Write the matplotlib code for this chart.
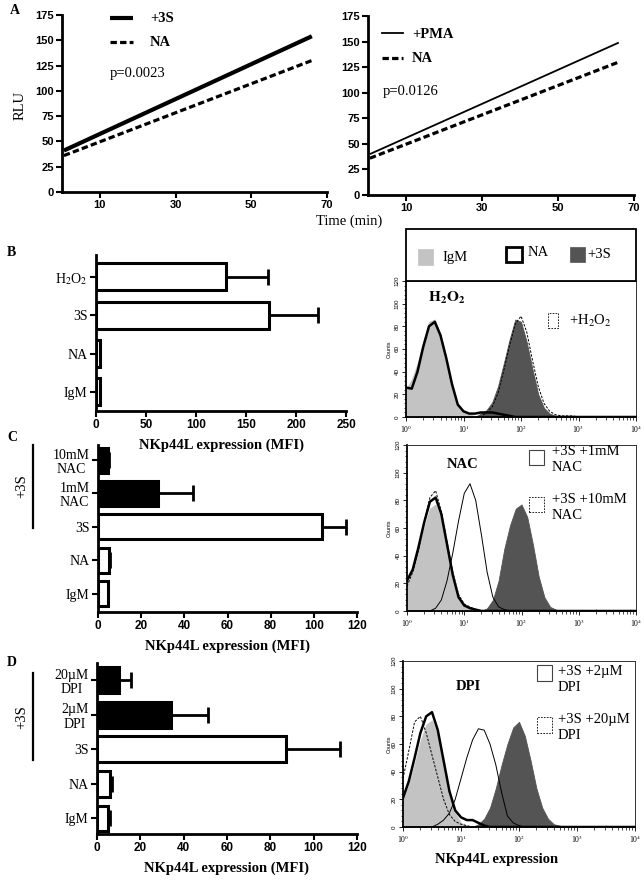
import numpy as np
import matplotlib
matplotlib.use("Agg")
import matplotlib.pyplot as plt
from matplotlib.patches import Rectangle
from matplotlib.lines import Line2D
from matplotlib.ticker import MultipleLocator, LogLocator, NullFormatter

plt.rcParams['font.family'] = ['Liberation Serif', 'DejaVu Serif']
plt.rcParams['mathtext.fontset'] = 'stix'
plt.rcParams['axes.facecolor'] = 'none'

W, H = 644, 883
SANS = 'Liberation Sans'

# panel A : RLU over time (fitted lines)
time_pts = [0.5, 66]
rlu_3s = [41, 154]
rlu_na_a1 = [36, 130]
rlu_pma = [40, 149]
rlu_na_a2 = [36, 130]

# panels B-D : NKp44L expression (MFI), top row first
b_labels = ["H$_2$O$_2$", "3S", "NA", "IgM"]
b_mfi = [130, 173, 4, 4]
b_err = [42, 49, 0, 0]
b_fill = ["white", "white", "white", "white"]

c_labels = ["10mM\nNAC", "1mM\nNAC", "3S", "NA", "IgM"]
c_mfi = [4.5, 28, 104, 5, 4.5]
c_err = [0.5, 16, 11, 0.5, 0]
c_fill = ["black", "black", "white", "white", "white"]

d_labels = ["20\u00b5M\nDPI", "2\u00b5M\nDPI", "3S", "NA", "IgM"]
d_mfi = [10, 34, 87, 6, 5]
d_err = [5.5, 17, 25, 1, 0.8]
d_fill = ["black", "black", "white", "white", "white"]

# flow histograms : counts per 0.1 decade channel, 10^0 .. 10^4
decade = np.arange(41) / 10

hist_b_igm = [24, 33, 47, 66, 84, 86, 73, 50, 27, 11,
              4, 2, 1, 1, 0, 0, 0, 0, 0, 0,
              0, 0, 0, 0, 0, 0, 0, 0, 0, 0,
              0, 0, 0, 0, 0, 0, 0, 0, 0, 0, 0]
hist_b_na = [26, 25, 40, 62, 80, 84, 72, 52, 29, 11,
             5, 3, 3, 4, 4, 4, 3, 2, 1, 0,
             0, 0, 0, 0, 0, 0, 0, 0, 0, 0,
             0, 0, 0, 0, 0, 0, 0, 0, 0, 0, 0]
hist_b_3s = [0, 0, 0, 0, 0, 0, 0, 0, 0, 0,
             0, 0, 0, 3, 6, 13, 27, 47, 68, 86,
             84, 66, 42, 20, 8, 3, 1, 1, 0, 0,
             0, 0, 1, 0, 0, 0, 0, 0, 1, 0, 0]
hist_b_h2o2 = [0, 0, 0, 0, 0, 0, 0, 0, 0, 0,
               0, 0, 0, 0, 4, 9, 21, 41, 63, 82,
               89, 75, 50, 27, 12, 5, 2, 1, 1, 1,
               0, 0, 0, 0, 0, 0, 0, 0, 0, 0, 0]

hist_c_igm = [20, 30, 44, 60, 74, 77, 66, 45, 24, 9,
              3, 1, 0, 0, 0, 0, 0, 0, 0, 0,
              0, 0, 0, 0, 0, 0, 0, 0, 0, 0,
              0, 0, 0, 0, 0, 0, 0, 0, 0, 0, 0]
hist_c_na = [22, 30, 46, 64, 79, 82, 70, 48, 26, 10,
             4, 2, 1, 0, 0, 0, 0, 0, 0, 0,
             0, 0, 0, 0, 0, 0, 0, 0, 0, 0,
             0, 0, 0, 0, 0, 0, 0, 0, 0, 0, 0]
hist_c_nac10 = [18, 28, 44, 64, 82, 87, 72, 50, 28, 12,
                5, 3, 1, 0, 0, 0, 0, 0, 0, 0,
                0, 0, 0, 0, 0, 0, 0, 0, 0, 0,
                0, 0, 0, 0, 0, 0, 0, 0, 0, 0, 0]
hist_c_nac1 = [0, 0, 0, 0, 0, 2, 8, 22, 42, 65,
               85, 92, 80, 55, 28, 10, 3, 1, 0, 0,
               0, 0, 0, 0, 0, 0, 0, 0, 0, 0,
               0, 0, 0, 0, 0, 0, 0, 0, 0, 0, 0]
hist_c_3s = [0, 0, 0, 0, 0, 0, 0, 0, 0, 0,
             0, 0, 0, 0, 2, 8, 22, 45, 62, 74,
             77, 68, 48, 25, 10, 3, 1, 0, 0, 0,
             0, 0, 0, 1, 0, 0, 0, 0, 0, 1, 0]

hist_d_igm = [20, 30, 45, 62, 74, 77, 66, 45, 24, 10,
              3, 1, 0, 0, 0, 0, 0, 0, 0, 0,
              0, 0, 0, 0, 0, 0, 0, 0, 0, 0,
              0, 0, 0, 0, 0, 0, 0, 0, 0, 0, 0]
hist_d_na = [21, 33, 50, 68, 80, 83, 70, 48, 26, 12,
             7, 5, 5, 3, 1, 0, 0, 0, 0, 0,
             0, 0, 0, 0, 0, 0, 0, 0, 0, 0,
             0, 0, 0, 0, 0, 0, 0, 0, 0, 0, 0]
hist_d_dpi20 = [35, 55, 76, 80, 68, 52, 36, 20, 9, 4,
                2, 1, 0, 0, 0, 0, 0, 0, 0, 0,
                0, 0, 0, 0, 0, 0, 0, 0, 0, 0,
                0, 0, 0, 0, 0, 0, 0, 0, 0, 0, 0]
hist_d_dpi2 = [0, 0, 0, 0, 0, 0, 2, 5, 10, 20,
               35, 50, 63, 71, 70, 60, 45, 25, 8, 3,
               1, 0, 0, 0, 0, 0, 0, 0, 0, 0,
               0, 0, 0, 0, 0, 0, 0, 0, 0, 0, 0]
hist_d_3s = [0, 0, 0, 0, 0, 0, 0, 0, 0, 0,
             0, 0, 0, 2, 6, 14, 28, 45, 60, 72,
             76, 66, 48, 28, 14, 6, 2, 1, 0, 0,
             0, 0, 0, 0, 0, 1, 0, 0, 0, 0, 0]

LIGHT = '#c3c3c3'
DARK = '#545454'


def box(x0, y0, x1, y1):
    # pixel box (top-left origin) -> figure rect
    return [x0 / W, 1 - y1 / H, (x1 - x0) / W, (y1 - y0) / H]


def ftext(fig, x, y, s, **kw):
    fig.text(x / W, 1 - y / H, s, **kw)


def fline(fig, x0, y0, x1, y1, **kw):
    fig.add_artist(Line2D([x0 / W, x1 / W], [1 - y0 / H, 1 - y1 / H], transform=fig.transFigure, **kw))


def frect(fig, x0, y0, x1, y1, **kw):
    fig.add_artist(Rectangle((x0 / W, 1 - y1 / H), (x1 - x0) / W, (y1 - y0) / H,
                             transform=fig.transFigure, **kw))


def sans_ticks(ax, size=8):
    for lab in ax.get_xticklabels() + ax.get_yticklabels():
        lab.set_fontfamily(SANS)
        lab.set_fontweight('bold')
        lab.set_fontsize(size)


def rlu_panel(fig, rect, y_top, lw_top, y_na):
    ax = fig.add_axes(rect)
    ax.plot(time_pts, y_top, color='k', lw=lw_top, solid_capstyle='butt')
    ax.plot(time_pts, y_na, color='k', lw=2.3, ls=(0, (2, 1)))
    ax.set_xlim(0, 70)
    ax.set_ylim(0, 175)
    ax.set_xticks([10, 30, 50, 70])
    ax.set_yticks(range(0, 176, 25))
    for s in ['top', 'right']:
        ax.spines[s].set_visible(False)
    for s in ['left', 'bottom']:
        ax.spines[s].set_linewidth(2)
    ax.tick_params(width=1.5, length=4, pad=2)
    sans_ticks(ax)
    return ax


def bar_panel(fig, rect, labels, vals, errs, fills, xmax, xstep, ylim, height):
    ax = fig.add_axes(rect)
    pos = np.arange(len(labels))[::-1]
    ax.barh(pos, vals, height=height, color=fills, edgecolor='k', lw=2.2)
    ax.errorbar(vals, pos, xerr=[np.zeros(len(errs)), errs], fmt='none',
                ecolor='k', elinewidth=2, capsize=5.5, capthick=2)
    ax.set_xlim(0, xmax)
    ax.set_ylim(*ylim)
    ax.set_xticks(range(0, xmax + 1, xstep))
    ax.set_yticks(pos)
    ax.set_yticklabels(labels, fontsize=10, ma='center', linespacing=1.15)
    for s in ['top', 'right']:
        ax.spines[s].set_visible(False)
    for s in ['left', 'bottom']:
        ax.spines[s].set_linewidth(2)
    ax.tick_params(width=1.5, length=4, pad=2)
    for lab in ax.get_xticklabels():
        lab.set_fontfamily(SANS)
        lab.set_fontweight('bold')
        lab.set_fontsize(8.5)
    ax.set_xlabel('NKp44L expression (MFI)', fontsize=10.5, fontweight='bold', labelpad=5)
    return ax


def hist_panel(fig, rect, fills, lines):
    ax = fig.add_axes(rect)
    x = 10 ** decade
    for counts, col in fills:
        ax.fill_between(x, counts, color=col, lw=0.6, edgecolor=col)
    for counts, lw, ls in lines:
        ax.plot(x, counts, color='k', lw=lw, ls=ls)
    ax.set_xscale('log')
    ax.set_xlim(1, 1e4)
    ax.set_ylim(0, 120)
    ax.set_xticks([1, 10, 100, 1000, 10000])
    ax.set_xticklabels(['10$^0$', '10$^1$', '10$^2$', '10$^3$', '10$^4$'], fontsize=5.5)
    ax.xaxis.set_minor_locator(LogLocator(base=10, subs=np.arange(2, 10)))
    ax.xaxis.set_minor_formatter(NullFormatter())
    ax.set_yticks(range(0, 121, 20))
    ax.set_yticklabels([str(v) for v in range(0, 121, 20)], fontsize=4.5,
                       rotation=90, va='center', fontfamily=SANS)
    ax.yaxis.set_minor_locator(MultipleLocator(4))
    ax.tick_params(which='major', length=3, width=0.6, pad=1.5)
    ax.tick_params(which='minor', length=1.8, width=0.5)
    ax.spines['left'].set_linewidth(1.3)
    ax.spines['bottom'].set_linewidth(1.3)
    for s in ['top', 'right']:
        ax.spines[s].set_linewidth(0.7)
        ax.spines[s].set_color('#333333')
    return ax


fig = plt.figure(figsize=(W / 100, H / 100), dpi=100)

# ---------------- A
rlu_panel(fig, box(62, 15, 327, 192), rlu_3s, 3.0, rlu_na_a1)
rlu_panel(fig, box(368, 16, 634, 195), rlu_pma, 1.3, rlu_na_a2)
ftext(fig, 10, 10, 'A', fontsize=10, fontweight='bold', va='center')
ftext(fig, 20, 105, 'RLU', fontsize=10.5, rotation=90, ha='center', va='center')
ftext(fig, 349, 221, 'Time (min)', fontsize=10.5, ha='center', va='center')
fline(fig, 110, 18, 133, 18, color='k', lw=3.0, solid_capstyle='butt')
fline(fig, 110, 42, 133, 42, color='k', lw=2.3, ls=(0, (2, 1)))
ftext(fig, 150, 19, '+3S', fontsize=10.5, fontweight='bold', va='center')
ftext(fig, 150, 43, 'NA', fontsize=10.5, fontweight='bold', va='center')
ftext(fig, 110, 74, 'p=0.0023', fontsize=10.5, va='center')
fline(fig, 382, 33, 403, 33, color='k', lw=1.3)
fline(fig, 382, 58, 403, 58, color='k', lw=2.3, ls=(0, (2, 1)))
ftext(fig, 412, 34, '+PMA', fontsize=10.5, fontweight='bold', va='center')
ftext(fig, 412, 59, 'NA', fontsize=10.5, fontweight='bold', va='center')
ftext(fig, 383, 92, 'p=0.0126', fontsize=10.5, va='center')

# ---------------- bars
bar_panel(fig, box(96, 255, 346, 411), b_labels, b_mfi, b_err, b_fill, 250, 50, (-0.5, 3.57), 0.7)
bar_panel(fig, box(98, 445, 357, 612), c_labels, c_mfi, c_err, c_fill, 120, 20, (-0.55, 4.45), 0.75)
bar_panel(fig, box(97, 663, 357, 834), d_labels, d_mfi, d_err, d_fill, 120, 20, (-0.45, 4.5), 0.75)
ftext(fig, 7, 253, 'B', fontsize=10, fontweight='bold', va='center')
ftext(fig, 7, 437, 'C', fontsize=10, fontweight='bold', va='center')
ftext(fig, 7, 663, 'D', fontsize=10, fontweight='bold', va='center')
fline(fig, 33, 445, 33, 528, color='k', lw=1.6)
fline(fig, 33, 673, 33, 760, color='k', lw=1.6)
ftext(fig, 22, 486, '+3S', fontsize=10.5, rotation=90, ha='center', va='center')
ftext(fig, 22, 717, '+3S', fontsize=10.5, rotation=90, ha='center', va='center')

# ---------------- histograms
hist_panel(fig, box(406, 281, 636, 417),
           [(hist_b_igm, LIGHT), (hist_b_3s, DARK)],
           [(hist_b_na, 1.8, '-'), (hist_b_h2o2, 0.7, (0, (2.5, 1.5)))])
hist_panel(fig, box(407, 445, 636, 611),
           [(hist_c_igm, LIGHT), (hist_c_3s, DARK)],
           [(hist_c_na, 1.8, '-'), (hist_c_nac1, 0.7, '-'), (hist_c_nac10, 0.7, (0, (2.5, 1.5)))])
hist_panel(fig, box(403, 661, 635, 827),
           [(hist_d_igm, LIGHT), (hist_d_3s, DARK)],
           [(hist_d_na, 1.8, '-'), (hist_d_dpi2, 0.7, '-'), (hist_d_dpi20, 0.7, (0, (2.5, 1.5)))])
for yc in [349, 528, 744]:
    ftext(fig, 389, yc, 'Counts', fontsize=4, rotation=90, ha='center', va='center', fontfamily=SANS)

# B legend box
frect(fig, 406, 229, 636, 281, fc='none', ec='k', lw=1.3)
frect(fig, 418, 249, 433, 265, fc=LIGHT, ec=LIGHT, lw=0.5)
ftext(fig, 442, 258, 'IgM', fontsize=10.5, va='center')
frect(fig, 506, 247, 522, 262, fc='white', ec='k', lw=2)
ftext(fig, 528, 253, 'NA', fontsize=10.5, va='center')
frect(fig, 570, 247, 585, 262, fc=DARK, ec=DARK, lw=0.5)
ftext(fig, 587, 254, '+3S', fontsize=10.5, va='center')

ftext(fig, 447, 298, r'$\mathbf{H_2O_2}$', fontsize=11, ha='center', va='center')
frect(fig, 548, 313, 558, 328, fc='none', ec='k', lw=0.6, ls=(0, (2, 1.5)))
ftext(fig, 569, 321, '+H$_2$O$_2$', fontsize=10.5, va='center')

ftext(fig, 463, 465, 'NAC', fontsize=10.5, fontweight='bold', ha='center', va='center')
frect(fig, 529, 450, 544, 465, fc='none', ec='#444444', lw=0.8)
ftext(fig, 552, 445, '+3S +1mM\nNAC', fontsize=10.5, va='top', linespacing=1.3)
frect(fig, 529, 497, 544, 512, fc='none', ec='k', lw=0.6, ls=(0, (2, 1.5)))
ftext(fig, 552, 493, '+3S +10mM\nNAC', fontsize=10.5, va='top', linespacing=1.3)

ftext(fig, 468, 687, 'DPI', fontsize=10.5, fontweight='bold', ha='center', va='center')
frect(fig, 537, 665, 552, 681, fc='none', ec='#444444', lw=0.8)
ftext(fig, 558, 665, '+3S +2\u00b5M\nDPI', fontsize=10.5, va='top', linespacing=1.3)
frect(fig, 537, 717, 552, 733, fc='none', ec='k', lw=0.6, ls=(0, (2, 1.5)))
ftext(fig, 558, 713, '+3S +20\u00b5M\nDPI', fontsize=10.5, va='top', linespacing=1.3)
ftext(fig, 497, 859, 'NKp44L expression', fontsize=10.5, fontweight='bold', ha='center', va='center')

fig.savefig('out.png', dpi=100, facecolor='white')
